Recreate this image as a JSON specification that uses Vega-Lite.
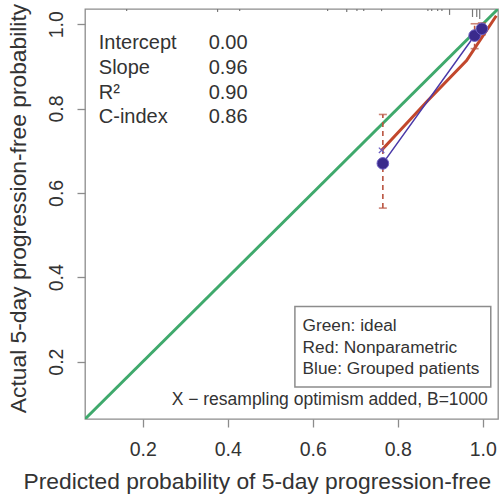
{
  "$schema": "https://vega.github.io/schema/vega-lite/v6.json",
  "width": 413,
  "height": 410,
  "autosize": {"type": "none"},
  "padding": {"left": 85, "top": 9, "right": 2, "bottom": 76},
  "background": "white",
  "config": {
    "view": {"stroke": "#8c8c8c", "strokeWidth": 1.3},
    "font": "Liberation Sans",
    "text": {"font": "Liberation Sans"},
    "axis": {
      "grid": false,
      "domain": false,
      "tickColor": "#8c8c8c",
      "tickWidth": 1.3,
      "tickSize": 8,
      "labelColor": "#333333",
      "titleColor": "#333333",
      "labelFont": "Liberation Sans",
      "titleFont": "Liberation Sans",
      "labelFontSize": 19.5,
      "titleFontSize": 22.8,
      "titleFontWeight": "normal"
    }
  },
  "datasets": {
    "ideal": [{"x": 0.064, "y": 0.064}, {"x": 1.036, "y": 1.036}],
    "nonpar": [
      {"x": 0.762, "y": 0.701},
      {"x": 0.871, "y": 0.819},
      {"x": 0.962, "y": 0.914},
      {"x": 1.032, "y": 1.02}
    ],
    "grouped": [
      {"x": 0.765, "y": 0.67, "lo": 0.564, "hi": 0.786},
      {"x": 0.981, "y": 0.973, "lo": 0.942, "hi": 1.001},
      {"x": 0.998, "y": 0.989, "lo": 0.975, "hi": 1.003}
    ],
    "optimism": [{"x": 0.762, "y": 0.701}],
    "rug": [
      {"x": 0.162, "lo": 1.031},
      {"x": 0.376, "lo": 1.029},
      {"x": 0.428, "lo": 1.031},
      {"x": 0.635, "lo": 1.031},
      {"x": 0.68, "lo": 1.029},
      {"x": 0.704, "lo": 1.031},
      {"x": 0.72, "lo": 1.031},
      {"x": 0.762, "lo": 1.031},
      {"x": 0.871, "lo": 1.031},
      {"x": 0.88, "lo": 1.031},
      {"x": 0.894, "lo": 1.031},
      {"x": 0.904, "lo": 1.031},
      {"x": 0.922, "lo": 1.022},
      {"x": 0.976, "lo": 1.017},
      {"x": 0.986, "lo": 1.017},
      {"x": 0.993, "lo": 1.012}
    ],
    "one": [{}]
  },
  "layer": [
    {
      "data": {"name": "ideal"},
      "mark": {"type": "line", "color": "#3fa96c", "strokeWidth": 3, "clip": true},
      "encoding": {
        "x": {"field": "x", "type": "quantitative", "scale": {"domain": [0.064, 1.036], "nice": false, "zero": false},
          "axis": {"title": "Predicted probability of 5-day progression-free", "values": [0.2, 0.4, 0.6, 0.8, 1.0], "format": ".1f",
            "labelPadding": 13, "labelBaseline": "top", "titleX": -62, "titleY": 69, "titleAlign": "left", "titleBaseline": "alphabetic"}},
        "y": {"field": "y", "type": "quantitative", "scale": {"domain": [0.064, 1.036], "nice": false, "zero": false},
          "axis": {"title": "Actual 5-day progression-free probability", "values": [0.2, 0.4, 0.6, 0.8, 1.0], "format": ".1f",
            "labelAngle": -90, "labelAlign": "center", "labelBaseline": "alphabetic", "labelPadding": 15,
            "titleAngle": -90, "titleX": -60, "titleY": 199, "titleAlign": "center", "titleBaseline": "alphabetic"}}
      }
    },
    {
      "data": {"name": "rug"},
      "mark": {"type": "rule", "color": "#777777", "strokeWidth": 1.2},
      "encoding": {
        "x": {"field": "x", "type": "quantitative", "scale": {"domain": [0.064, 1.036], "nice": false, "zero": false}},
        "y": {"field": "lo", "type": "quantitative", "scale": {"domain": [0.064, 1.036], "nice": false, "zero": false}},
        "y2": {"datum": 1.036}
      }
    },
    {
      "data": {"name": "nonpar"},
      "mark": {"type": "line", "color": "#c2472c", "strokeWidth": 3, "clip": true},
      "encoding": {
        "x": {"field": "x", "type": "quantitative", "scale": {"domain": [0.064, 1.036], "nice": false, "zero": false}},
        "y": {"field": "y", "type": "quantitative", "scale": {"domain": [0.064, 1.036], "nice": false, "zero": false}}
      }
    },
    {
      "data": {"name": "grouped"},
      "mark": {"type": "rule", "color": "#b9533f", "strokeWidth": 1.6, "strokeDash": [5, 4]},
      "encoding": {
        "x": {"field": "x", "type": "quantitative", "scale": {"domain": [0.064, 1.036], "nice": false, "zero": false}},
        "y": {"field": "lo", "type": "quantitative", "scale": {"domain": [0.064, 1.036], "nice": false, "zero": false}},
        "y2": {"field": "hi"}
      }
    },
    {
      "data": {"name": "grouped"},
      "mark": {"type": "tick", "orient": "horizontal", "color": "#b9533f", "size": 8, "thickness": 1.6},
      "encoding": {
        "x": {"field": "x", "type": "quantitative", "scale": {"domain": [0.064, 1.036], "nice": false, "zero": false}},
        "y": {"field": "lo", "type": "quantitative", "scale": {"domain": [0.064, 1.036], "nice": false, "zero": false}}
      }
    },
    {
      "data": {"name": "grouped"},
      "mark": {"type": "tick", "orient": "horizontal", "color": "#b9533f", "size": 8, "thickness": 1.6},
      "encoding": {
        "x": {"field": "x", "type": "quantitative", "scale": {"domain": [0.064, 1.036], "nice": false, "zero": false}},
        "y": {"field": "hi", "type": "quantitative", "scale": {"domain": [0.064, 1.036], "nice": false, "zero": false}}
      }
    },
    {
      "data": {"name": "grouped"},
      "mark": {"type": "line", "color": "#4a39a8", "strokeWidth": 1.5},
      "encoding": {
        "x": {"field": "x", "type": "quantitative", "scale": {"domain": [0.064, 1.036], "nice": false, "zero": false}},
        "y": {"field": "y", "type": "quantitative", "scale": {"domain": [0.064, 1.036], "nice": false, "zero": false}}
      }
    },
    {
      "data": {"name": "grouped"},
      "mark": {"type": "point", "shape": "circle", "filled": true, "size": 135, "color": "#3a2a8c", "opacity": 1, "stroke": "#6b5dc2", "strokeWidth": 1},
      "encoding": {
        "x": {"field": "x", "type": "quantitative", "scale": {"domain": [0.064, 1.036], "nice": false, "zero": false}},
        "y": {"field": "y", "type": "quantitative", "scale": {"domain": [0.064, 1.036], "nice": false, "zero": false}}
      }
    },
    {
      "data": {"name": "optimism"},
      "mark": {"type": "point", "shape": "M-1,-1L1,1M1,-1L-1,1", "filled": false, "size": 30, "color": "#6b5dc2", "strokeWidth": 1.2, "opacity": 1},
      "encoding": {
        "x": {"field": "x", "type": "quantitative", "scale": {"domain": [0.064, 1.036], "nice": false, "zero": false}},
        "y": {"field": "y", "type": "quantitative", "scale": {"domain": [0.064, 1.036], "nice": false, "zero": false}}
      }
    },
    {
      "data": {"name": "one"},
      "mark": {"type": "text", "align": "left", "baseline": "alphabetic", "fontSize": 20, "color": "#333333", "lineHeight": 24.8},
      "encoding": {
        "x": {"datum": 0.0965, "type": "quantitative", "scale": {"domain": [0.064, 1.036], "nice": false, "zero": false}},
        "y": {"datum": 0.941, "type": "quantitative", "scale": {"domain": [0.064, 1.036], "nice": false, "zero": false}},
        "text": {"value": ["Intercept", "Slope", "R²", "C-index"]}
      }
    },
    {
      "data": {"name": "one"},
      "mark": {"type": "text", "align": "left", "baseline": "alphabetic", "fontSize": 20, "color": "#333333", "lineHeight": 24.8},
      "encoding": {
        "x": {"datum": 0.355, "type": "quantitative", "scale": {"domain": [0.064, 1.036], "nice": false, "zero": false}},
        "y": {"datum": 0.941, "type": "quantitative", "scale": {"domain": [0.064, 1.036], "nice": false, "zero": false}},
        "text": {"value": ["0.00", "0.96", "0.90", "0.86"]}
      }
    },
    {
      "data": {"name": "one"},
      "mark": {"type": "rect", "fill": "white", "stroke": "#8c8c8c", "strokeWidth": 1.5},
      "encoding": {
        "x": {"datum": 0.558, "type": "quantitative", "scale": {"domain": [0.064, 1.036], "nice": false, "zero": false}},
        "x2": {"datum": 1.019},
        "y": {"datum": 0.331, "type": "quantitative", "scale": {"domain": [0.064, 1.036], "nice": false, "zero": false}},
        "y2": {"datum": 0.14}
      }
    },
    {
      "data": {"name": "one"},
      "mark": {"type": "text", "align": "left", "baseline": "alphabetic", "fontSize": 17.3, "color": "#333333", "lineHeight": 21.7},
      "encoding": {
        "x": {"datum": 0.576, "type": "quantitative", "scale": {"domain": [0.064, 1.036], "nice": false, "zero": false}},
        "y": {"datum": 0.273, "type": "quantitative", "scale": {"domain": [0.064, 1.036], "nice": false, "zero": false}},
        "text": {"value": ["Green: ideal", "Red: Nonparametric", "Blue: Grouped patients"]}
      }
    },
    {
      "data": {"name": "one"},
      "mark": {"type": "text", "align": "right", "baseline": "alphabetic", "fontSize": 17.5, "color": "#333333"},
      "encoding": {
        "x": {"datum": 1.012, "type": "quantitative", "scale": {"domain": [0.064, 1.036], "nice": false, "zero": false}},
        "y": {"datum": 0.097, "type": "quantitative", "scale": {"domain": [0.064, 1.036], "nice": false, "zero": false}},
        "text": {"value": "X − resampling optimism added, B=1000"}
      }
    }
  ]
}
